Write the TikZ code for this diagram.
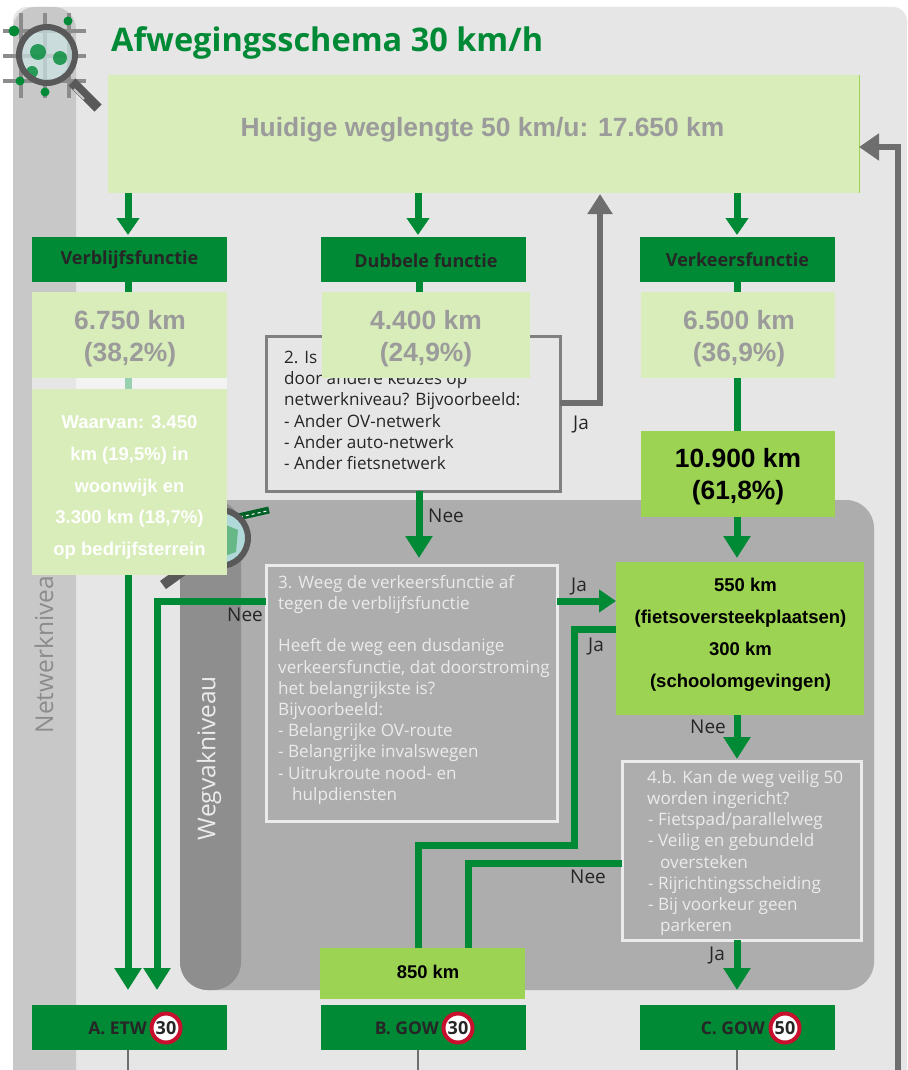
\documentclass[tikz,border=0pt]{standalone}
\usepackage{fontspec}
\setmainfont{Open Sans}
\newfontfamily\arialf{Liberation Sans}
\usetikzlibrary{arrows.meta}
\definecolor{bggray}{HTML}{E6E6E6}
\definecolor{colgray}{HTML}{C8C8C8}
\definecolor{panelgray}{HTML}{ADADAD}
\definecolor{pillgray}{HTML}{8E8E8E}
\definecolor{gr}{HTML}{008A36}
\definecolor{lightg}{HTML}{D8EDB9}
\definecolor{midg}{HTML}{9DD353}
\definecolor{darkt}{HTML}{262626}
\definecolor{numg}{HTML}{9B9B9B}
\definecolor{linegray}{HTML}{6E6E6E}
\definecolor{signred}{HTML}{C8102E}
\newcommand{\rbox}[6]{\node[#6,anchor=north west,inner sep=0pt,outer sep=0pt,minimum width={(#4-#2)*1pt},minimum height={(#5-#3)*1pt}] (#1) at (#2,#3)}
\tikzset{
 x=1pt,y=-1pt,
 garrowbig/.style={draw=gr,line width=7pt,-{Triangle[length=22pt,width=26pt]}},
 garrow/.style={draw=gr,line width=7pt,-{Triangle[length=17pt,width=22pt]}},
 gline/.style={draw=gr,line width=7pt},
 grayarrow/.style={draw=linegray,line width=6.5pt,-{Triangle[length=20pt,width=24pt]}},
 lightbox/.style={fill=lightg},
 bigtext/.style={inner sep=0pt,text=numg,align=center,font=\arialf\bfseries\fontsize{26.4}{32.5}\selectfont},
 midbox/.style={fill=midg,text=black,align=center},
 headbox/.style={fill=gr,text=darkt,font=\fontsize{18}{20}\selectfont\bfseries,align=center},
 headtext/.style={inner sep=0pt,text=darkt,font=\fontsize{18}{20}\selectfont\bfseries},
 bodytext/.style={anchor=north west,inner sep=0pt,align=left,font=\fontsize{17.1}{21.2}\selectfont},
 lab/.style={text=darkt,inner sep=0pt,font=\fontsize{19}{22}\selectfont},
 signc/.style={circle,draw=signred,line width=4pt,fill=white,minimum size=29pt,inner sep=0pt,text=darkt,font=\fontsize{18}{20}\selectfont\bfseries},
 destlab/.style={anchor=east,inner sep=0pt,text=darkt,font=\fontsize{17.5}{20}\selectfont\bfseries},
 gridl/.style={draw=black!45,line width=3.5pt},
 dot/.style={fill=gr},
 belowline/.style={draw=linegray,line width=2.5pt},
}
\begin{document}
\begin{tikzpicture}
\useasboundingbox (0,0) rectangle (907,1070);
\fill[white] (0,0) rectangle (907,1070);
% backgrounds
\fill[bggray,rounded corners=14pt] (13,7) rectangle (907,1090);
\fill[colgray,rounded corners=22pt] (13,7) rectangle (76,1100);
\fill[panelgray,rounded corners=28pt] (180,500) rectangle (874,990);
\fill[pillgray,rounded corners=28pt] (180,500) rectangle (241,990);
\node[rotate=90,text=black!45,font=\fontsize{24.5}{26}\selectfont] (netlab) at (44,647) {Netwerkniveau};
\node[rotate=90,text=white!92!black,font=\fontsize{24.5}{26}\selectfont] (weglab) at (209,758) {Wegvakniveau};
% icon 1
\foreach \yy in {31,56,81} \draw[gridl] (3,\yy) -- (86,\yy);
\foreach \xx in {21,45,69} \draw[gridl] (\xx,13) -- (\xx,98);
\fill[dot] (14,31) circle (5.5);
\fill[dot] (68,21) circle (4.5);
\fill[dot] (20,81) circle (4.5);
\fill[dot] (45,92) circle (4.5);
\fill[white!80!teal,opacity=.7] (47,55) circle (27);
\fill[dot,opacity=.8] (38,52) circle (8);
\fill[dot,opacity=.8] (60,58) circle (7);
\fill[dot,opacity=.8] (32,72) circle (6);
\draw[black!65,line width=6pt] (47,55) circle (28);
\draw[black!65,line width=10pt] (72,82) -- (98,108);
\draw[white!80!black,line width=2pt] (74,89) -- (84,99);
% icon 2
\draw[gr!70!black,line width=7pt] (238,517) -- (269,510);
\draw[white,line width=1pt,dashed] (240,517) -- (267,511);
\fill[white!70!teal] (220,538) circle (27);
\fill[gr!60!white] (214,520) -- (238,530) -- (236,552) -- (214,560) -- cycle;
\draw[black!65,line width=6pt] (220,538) circle (28);
\draw[black!65,line width=10pt] (195,562) -- (163,585);
% title
\node[anchor=west,inner sep=0pt,text=gr,font=\fontsize{32.5}{36}\selectfont\bfseries] (title) at (111,43) {Afwegingsschema 30 km/h};
% coordinates and nodes
\rbox{top}{108}{75}{859}{193}{lightbox}{};
\draw[midg,line width=1pt] (top.north east) -- (top.south east);
\node[bigtext] (topt) at (482.5,130) {Huidige weglengte 50 km/u: 17.650 km};
\rbox{hv}{32}{237}{227}{282}{headbox}{};
\rbox{hd}{321}{237}{526}{282}{headbox}{};
\rbox{hk}{640}{237}{835}{282}{headbox}{};
\node[headtext] (hvt) at (129.5,260) {Verblijfsfunctie};
\node[headtext] (hdt) at (426,261) {Dubbele functie};
\node[headtext] (hkt) at (737.5,260) {Verkeersfunctie};
\rbox{ga}{32}{1005}{227}{1050}{headbox}{};
\rbox{gb}{321}{1005}{526}{1050}{headbox}{};
\rbox{gc}{640}{1005}{835}{1050}{headbox}{};
\rbox{q2}{266}{336}{560}{491}{draw=black!50,line width=3pt,fill=bggray}{};
\rbox{q3}{266}{565}{557}{821}{draw=white!92!black,line width=3pt,fill=panelgray}{};
\rbox{q4}{622}{761}{861}{940}{draw=white!92!black,line width=3pt,fill=panelgray}{};
\rbox{kmgroen}{616}{562}{864}{715}{midbox}{};
\rbox{kmt}{641}{431}{835}{517}{midbox}{};
\node[bigtext,text=black] (kmtt) at (738,476.5) {10.900 km\\(61,8\%)};
\coordinate (c1) at (157,601);
\coordinate (c2) at (600,403);
\coordinate (c3) at (574,629);
\coordinate (c4) at (574,845);
\coordinate (c5) at (418,845);
\coordinate (c6) at (468,863);
\coordinate (c7) at (898,147);
\coordinate (c8) at (898,1070);
\coordinate (a1) at (128,990);
\coordinate (a2) at (157,990);
\coordinate (v8) at (418,960);
\coordinate (v9) at (468,960);
% connectors
\draw[garrow] (128,193) -- (128,235);
\draw[garrow] (418,193) -- (418,235);
\draw[garrow] (737,193) -- (737,235);
\draw[gline] (128,282) -- (128,300);
\draw[garrowbig] (128,570) -- (a1);
\draw[gline] (419,282) -- (419,300);
\draw[garrowbig] (419,491) -- (419,558);
\draw[gline] (737,282) -- (737,431);
\draw[garrowbig] (737,517) -- (737,558);
\draw[garrowbig] (737,715) -- (737,759);
\draw[garrowbig] (737,940) -- (737,990);
\draw[garrowbig] (q3.west |- c1) -- (c1) -- (a2);
\draw[garrow] (q3.east |- c1) -- (kmgroen.west |- c1);
\draw[gline] (kmgroen.west |- c3) -- (c3) -- (c4) -- (c5) -- (v8);
\draw[gline] (q4.west |- c6) -- (c6) -- (v9);
\draw[grayarrow] (q2.east |- c2) -- (c2) -- (600,194);
\draw[draw=linegray,line width=6.5pt,-{Triangle[length=20pt,width=26pt]}] (c8) -- (c7) -- (top.east |- c7);
\draw[belowline] (128,1050) -- (128,1070);
\draw[belowline] (418,1050) -- (418,1070);
\draw[belowline] (737,1050) -- (737,1070);
% box text
\node[bodytext,text=darkt] (t2) at (284,351) {2. Is\\door andere keuzes op\\netwerkniveau? Bijvoorbeeld:\\- Ander OV-netwerk\\- Ander auto-netwerk\\- Ander fietsnetwerk};
\node[bodytext,text=white!92!black] (t3) at (278,575) {3. Weeg de verkeersfunctie af\\tegen de verblijfsfunctie\\[21.2pt]Heeft de weg een dusdanige\\verkeersfunctie, dat doorstroming\\het belangrijkste is?\\Bijvoorbeeld:\\- Belangrijke OV-route\\- Belangrijke invalswegen\\- Uitrukroute nood- en\\\hspace*{14pt}hulpdiensten};
\node[bodytext,text=white!92!black] (t4) at (647,770) {4.b. Kan de weg veilig 50\\worden ingericht?\\\hspace*{1pt}- Fietspad/parallelweg\\\hspace*{1pt}- Veilig en gebundeld\\\hspace*{13pt}oversteken\\\hspace*{1pt}- Rijrichtingsscheiding\\\hspace*{1pt}- Bij voorkeur geen\\\hspace*{13pt}parkeren};
% km boxes on top
\rbox{kv}{32}{292}{227}{378}{lightbox}{};
\rbox{kd}{322}{292}{530}{378}{lightbox}{};
\rbox{kk}{641}{292}{835}{378}{lightbox}{};
\node[bigtext] (kvt) at (130,338.5) {6.750 km\\(38,2\%)};
\node[bigtext] (kdt) at (426,338.5) {4.400 km\\(24,9\%)};
\node[bigtext] (kkt) at (739,338.5) {6.500 km\\(36,9\%)};
\fill[white,opacity=.55] (32,378) rectangle (227,389);
\draw[draw=gr!40!white,line width=7pt] (128,378) -- (128,389);
\rbox{kw}{32}{389}{227}{575}{lightbox}{};
\node[inner sep=0pt,text=white,align=center,font=\arialf\bfseries\fontsize{18.5}{31.8}\selectfont] (kwt) at (129.5,487.5) {Waarvan: 3.450\\km (19,5\%) in\\woonwijk en\\3.300 km (18,7\%)\\op bedrijfsterrein};
\rbox{km}{320}{948}{525}{999}{midbox}{};
\node[inner sep=0pt,text=black,font=\arialf\bfseries\fontsize{18.4}{20}\selectfont] (kmtx) at (428,972) {850 km};
\node[inner sep=0pt,text=black,align=center,font=\arialf\bfseries\fontsize{18.5}{32}\selectfont] (kmgt) at (740.5,635) {\hspace*{10pt}550 km\\(fietsoversteekplaatsen)\\300 km\\(schoolomgevingen)};
% destination labels
\node[destlab] (la) at (147,1028) {A. ETW};
\node[signc] (sa) at (166,1028) {30};
\node[destlab] (lb) at (439,1028) {B. GOW};
\node[signc] (sb) at (458,1028) {30};
\node[destlab] (lc) at (765,1028) {C. GOW};
\node[signc] (sc) at (785,1028) {50};
% connector labels
\node[lab] (n1) at (446,516) {Nee};
\node[lab] (n2) at (245,615) {Nee};
\node[lab] (n3) at (708,727) {Nee};
\node[lab] (n4) at (588,877) {Nee};
\node[lab] (j1) at (581,424) {Ja};
\node[lab] (j2) at (579,586) {Ja};
\node[lab] (j3) at (596,646) {Ja};
\node[lab] (j4) at (717,955) {Ja};
\end{tikzpicture}
\end{document}
